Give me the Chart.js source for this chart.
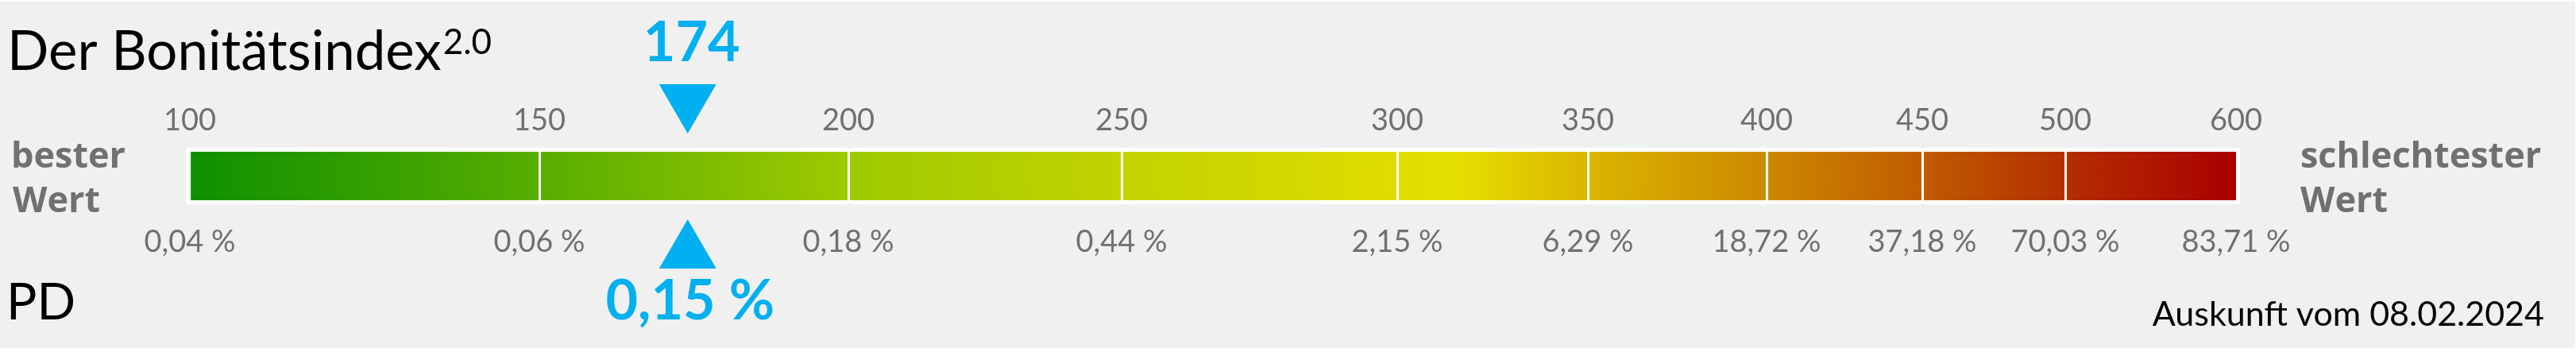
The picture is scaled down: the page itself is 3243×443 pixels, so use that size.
<!DOCTYPE html>
<html>
<head>
<meta charset="utf-8">
<title>Bonitätsindex</title>
<script src="https://cdn.jsdelivr.net/npm/chart.js@4.4.1/dist/chart.umd.min.js"></script>
<style>
  html, body { margin: 0; padding: 0; background: #ffffff; }
  canvas { display: block; }
</style>
</head>
<body>
<canvas id="bonitaet" width="3243" height="443"></canvas>
<script>
// score ticks above the bar, PD values below it (one per band edge)
var scoreTicks = [100, 150, 200, 250, 300, 350, 400, 450, 500, 600];
var pdTicks = ['0,04 %', '0,06 %', '0,18 %', '0,44 %', '2,15 %', '6,29 %', '18,72 %', '37,18 %', '70,03 %', '83,71 %'];
// relative length of every band on the bar
var bandSpan = [440, 389, 344, 347, 240, 225, 196, 180, 215];

var currentScore = 174;
var currentPd = '0,15 %';

// colours at the band edges, plus one extra yellow stop inside the 300-350 band
var edgeColors = ['#0e9000', '#58ae00', '#9eca00', '#c2d300', '#e0dc00', '#dab600', '#cc8800', '#c05c00', '#b42e00', '#a80000'];
var blue = '#00b0f0';
var grey = '#707070';
var font = 'Lato';
var sideFont = '"Open Sans"';

var bandEdges = [0];
bandSpan.forEach(function (s, i) { bandEdges.push(bandEdges[i] + s); });
var total = bandEdges[bandEdges.length - 1];

function scoreToPos(score) {
    for (var i = 0; i < scoreTicks.length - 1; i++) {
        if (score <= scoreTicks[i + 1]) {
            var f = (score - scoreTicks[i]) / (scoreTicks[i + 1] - scoreTicks[i]);
            return bandEdges[i] + f * bandSpan[i];
        }
    }
    return total;
}

var gradCache = null;
function barGradient(ctx) {
    var area = ctx.chart.chartArea;
    if (!area) return edgeColors[0];
    if (!gradCache || gradCache.key !== area.left + '/' + area.right) {
        var g = ctx.chart.ctx.createLinearGradient(area.left, 0, area.right, 0);
        edgeColors.forEach(function (c, i) {
            g.addColorStop(bandEdges[i] / total, c);
            if (i === 4) g.addColorStop((bandEdges[4] + 0.3 * bandSpan[4]) / total, '#e6e000');
        });
        gradCache = { key: area.left + '/' + area.right, g: g };
    }
    return gradCache.g;
}

var panel = {
    id: 'panel',
    beforeDraw: function (chart) {
        var c = chart.ctx;
        c.save();
        c.fillStyle = '#ffffff';
        c.fillRect(0, 0, chart.width, chart.height);
        c.fillStyle = '#f0f0f0';
        c.fillRect(0, 2, chart.width - 1, chart.height - 7);
        c.restore();
    },
    beforeDatasetsDraw: function (chart) {
        var a = chart.chartArea, c = chart.ctx;
        c.save();
        c.fillStyle = '#ffffff';
        c.fillRect(a.left - 5, a.top - 5, a.right - a.left + 10, a.bottom - a.top + 10);
        c.restore();
    },
    afterDraw: function (chart) {
        var a = chart.chartArea, c = chart.ctx;
        var px = chart.scales.x.getPixelForValue(scoreToPos(currentScore));
        c.save();

        // pointers
        c.fillStyle = blue;
        c.beginPath();
        c.moveTo(px, a.top - 23);
        c.lineTo(px - 36, a.top - 85);
        c.lineTo(px + 36, a.top - 85);
        c.closePath();
        c.fill();
        c.beginPath();
        c.moveTo(px, a.bottom + 24);
        c.lineTo(px - 36, a.bottom + 86);
        c.lineTo(px + 36, a.bottom + 86);
        c.closePath();
        c.fill();

        c.textAlign = 'center';
        c.textBaseline = 'alphabetic';
        c.font = 'bold 70px ' + font;
        c.fillText(String(currentScore), px + 5, a.top - 114);
        c.fillText(currentPd, px + 3, a.bottom + 150);

        // headings
        c.textAlign = 'left';
        c.fillStyle = '#000000';
        c.font = '69px ' + font;
        c.fillText('Der Bonitätsindex', 9, 88);
        var w = c.measureText('Der Bonitätsindex').width;
        c.font = '44px ' + font;
        c.fillText('2.0', 9 + w + 2, 68);
        c.font = '64px ' + font;
        c.fillText('PD', 8, 402);

        c.fillStyle = grey;
        c.font = 'bold 45px ' + sideFont;
        c.fillText('bester', 14, 211);
        c.fillText('Wert', 16, 267);
        c.fillText('schlechtester', 2896, 211);
        c.fillText('Wert', 2896, 267);

        c.fillStyle = '#000000';
        c.textAlign = 'right';
        c.font = '43px ' + font;
        c.fillText('Auskunft vom 08.02.2024', 3203, 410);
        c.restore();
    }
};

new Chart(document.getElementById('bonitaet'), {
    type: 'bar',
    data: {
        labels: ['Bonitätsindex'],
        datasets: bandSpan.map(function (s, i) {
            return {
                label: scoreTicks[i] + '-' + scoreTicks[i + 1],
                data: [s],
                backgroundColor: barGradient,
                borderWidth: 0,
                barPercentage: 1,
                categoryPercentage: 1,
                xAxisID: 'x',
                yAxisID: 'y'
            };
        })
    },
    options: {
        indexAxis: 'y',
        responsive: false,
        animation: false,
        layout: { padding: { left: 239, right: 428, top: 111, bottom: 111 } },
        plugins: { legend: { display: false }, tooltip: { enabled: false } },
        scales: {
            x: {
                type: 'linear',
                position: 'top',
                min: 0,
                max: total,
                stacked: true,
                afterBuildTicks: function (scale) {
                    scale.ticks = bandEdges.map(function (v) { return { value: v }; });
                },
                afterFit: function (scale) { scale.height = 80; },
                grid: {
                    z: 1,
                    lineWidth: 3,
                    drawTicks: false,
                    color: function (ctx) {
                        return (ctx.index === 0 || ctx.index === bandEdges.length - 1) ? 'rgba(0,0,0,0)' : '#ffffff';
                    }
                },
                border: { display: false },
                ticks: {
                    autoSkip: false,
                    maxRotation: 0,
                    padding: 16,
                    color: grey,
                    font: { family: font, size: 38 },
                    callback: function (v, i) { return scoreTicks[i]; }
                }
            },
            x2: {
                type: 'linear',
                axis: 'x',
                position: 'bottom',
                min: 0,
                max: total,
                afterBuildTicks: function (scale) {
                    scale.ticks = bandEdges.map(function (v) { return { value: v }; });
                },
                afterFit: function (scale) { scale.height = 80; },
                grid: { display: false },
                border: { display: false },
                ticks: {
                    autoSkip: false,
                    maxRotation: 0,
                    padding: 22,
                    color: grey,
                    font: { family: font, size: 38 },
                    callback: function (v, i) { return pdTicks[i]; }
                }
            },
            y: { type: 'category', stacked: true, display: false }
        }
    },
    plugins: [panel]
});
</script>
</body>
</html>
